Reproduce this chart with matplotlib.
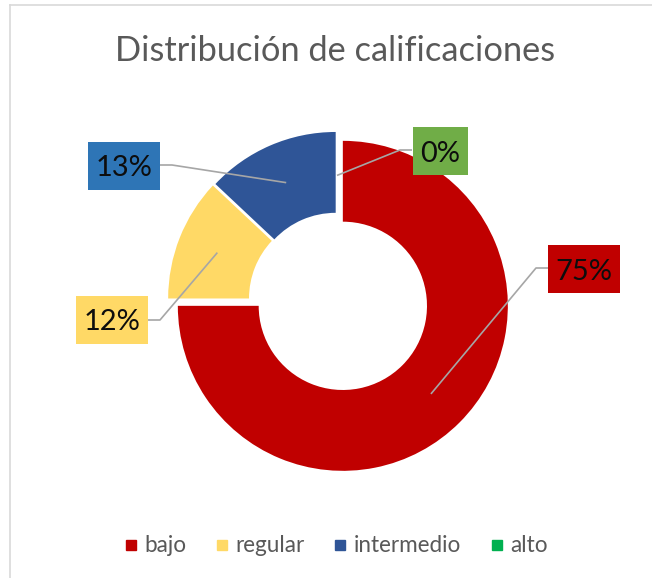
import matplotlib
matplotlib.use('Agg')
import matplotlib.pyplot as plt
from matplotlib.lines import Line2D
from matplotlib.patches import Rectangle
import numpy as np

# ---------------- data ----------------
categories = ['bajo', 'regular', 'intermedio', 'alto']
values = [75, 12, 13, 0]
label_texts = ['75%', '12%', '13%', '0%']
slice_colors = ['#C00000', '#FFD966', '#2F5597', '#00B050']
label_box_colors = ['#C00000', '#FFD966', '#2E75B6', '#70AD47']
title = 'Distribución de calificaciones'

# ---------------- layout ----------------
W, H, DPI = 652, 578, 100
CX, CY, R = 337, 300, 165          # donut centre / radius in pixels
RING_WIDTH = 0.49
explode = [0.05, 0.025, 0.02, 0.0]
FONT = 'Lato'
GREY_TEXT = '#595959'

# label box centres, leader elbows, box-edge attach points (pixels)
label_pos_px = [(584, 269), (112, 319.5), (124, 166), (440, 151)]
elbow_px = [(536, 268), (160, 320), (172, 165), (400, 150)]
edge_px = [(548, 268), (148, 320), (160, 165), (412, 150)]
BOX_PAD_PX = 8.5
BOX_H_PX = 48


def px2d(x, y):
    return ((x - CX) / R, (CY - y) / R)


fig = plt.figure(figsize=(W / DPI, H / DPI), dpi=DPI)
renderer = fig.canvas.get_renderer()


def text_w(s, size):
    t = fig.text(0, 0, s, fontsize=size, family=FONT)
    w = t.get_window_extent(renderer).width
    t.remove()
    return w


title_fs = 20 * 440 / text_w(title, 20)
label_fs = 20 * 57 / text_w('75%', 20)
legend_fs = 20 * 108 / text_w('intermedio', 20)

ax = fig.add_axes([0, 0, 1, 1])
wedges, _ = ax.pie(values, colors=slice_colors, startangle=90, counterclock=False,
                   explode=explode, radius=1,
                   wedgeprops=dict(width=RING_WIDTH, linewidth=0))
ax.set_aspect('auto')
ax.set_xlim(-CX / R, (W - CX) / R)
ax.set_ylim(-(H - CY) / R, CY / R)
ax.axis('off')

# leader lines + label boxes
total = float(sum(values))
cum = 0.0
for i, v in enumerate(values):
    mid = np.deg2rad(90 - 360 * (cum + v / 2) / total)
    cum += v
    r = 1 - RING_WIDTH / 2 + explode[i]
    ax_, ay_ = r * np.cos(mid), r * np.sin(mid)
    ex, ey = px2d(*elbow_px[i])
    gx, gy = px2d(*edge_px[i])
    ax.plot([ax_, ex, gx], [ay_, ey, gy], color='#A6A6A6', lw=1.2,
            solid_capstyle='butt', zorder=3)
    lx, ly = label_pos_px[i]
    tw = text_w(label_texts[i], label_fs)
    bw = tw + 2 * BOX_PAD_PX - 2
    x0, y0 = px2d(lx - bw / 2, ly + BOX_H_PX / 2)
    ax.add_patch(Rectangle((x0, y0), bw / R, BOX_H_PX / R,
                           facecolor=label_box_colors[i], edgecolor='none', zorder=4))
    tx, ty = px2d(lx, ly)
    ax.text(tx, ty, label_texts[i], ha='center', va='center_baseline',
            fontsize=label_fs, family=FONT, color='#0D0D0D', zorder=5)

# title
fig.text(335.5 / W, 1 - 61 / H, title, ha='center', va='baseline',
         fontsize=title_fs, family=FONT, color=GREY_TEXT)

# legend
F = legend_fs * DPI / 72.0
handles = [Line2D([], [], marker='s', linestyle='none', markersize=6.5,
                  markerfacecolor=c, markeredgecolor=c) for c in slice_colors]
hl = 0.6
fig.legend(handles, categories, loc='center', ncol=4,
           bbox_to_anchor=(336 / W, 1 - 546 / H), frameon=False,
           prop={'family': FONT, 'size': legend_fs}, labelcolor=GREY_TEXT,
           handlelength=hl, handletextpad=(13.5 - hl * F / 2) / F,
           columnspacing=(35.5 - hl * F / 2) / F, borderpad=0, borderaxespad=0)

# chart-area border (top and left visible)
fig.add_artist(Line2D([10 / W, 10 / W], [0, 1 - 5 / H], transform=fig.transFigure,
                      color='#D9D9D9', lw=1.2))
fig.add_artist(Line2D([10 / W, 1], [1 - 5 / H, 1 - 5 / H], transform=fig.transFigure,
                      color='#D9D9D9', lw=1.2))

fig.savefig('out.png', dpi=DPI)
